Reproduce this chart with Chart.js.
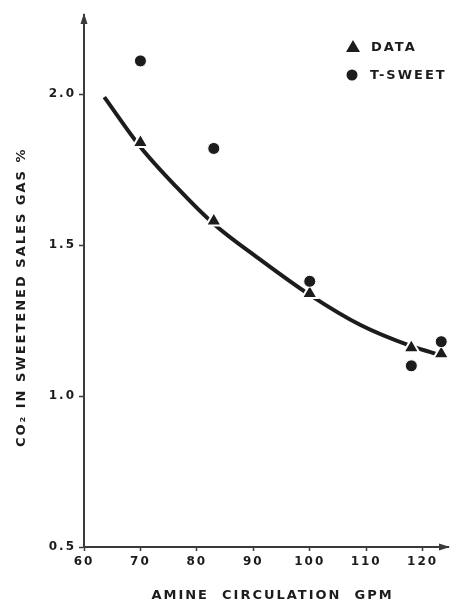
<!DOCTYPE html>
<html>
<head>
<meta charset="utf-8">
<script src="https://cdn.jsdelivr.net/npm/chart.js@4/dist/chart.umd.min.js"></script>
<style>
  html, body { margin: 0; padding: 0; background: #fff; }
  #wrap { width: 459px; height: 603px; }
</style>
</head>
<body>
<div id="wrap"><canvas id="c" width="459" height="603"></canvas></div>
<script>
// Amine circulation rate (GPM) vs CO2 left in sweetened sales gas (%)
const dataGpm      = [70, 83, 100, 118, 123.3];
const dataCo2      = [1.84, 1.58, 1.34, 1.16, 1.14];
const tsweetGpm    = [70, 83, 100, 118, 123.3];
const tsweetCo2    = [2.11, 1.82, 1.38, 1.10, 1.18];
// Fitted trend line through the measured points
const fitGpm       = [63.6, 70, 76.5, 83, 91, 100, 109, 118, 123.3];
const fitCo2       = [1.99, 1.825, 1.69, 1.57, 1.455, 1.335, 1.235, 1.165, 1.135];
const xTickValues  = [60, 70, 80, 90, 100, 110, 120];
const yTickValues  = [0.5, 1.0, 1.5, 2.0];

const INK = '#1c1c1c';
const AXIS = '#3a3a3a';
const FONT = '"DejaVu Sans", sans-serif';

const pts = (xs, ys) => xs.map((x, i) => ({ x, y: ys[i] }));

// Axis arrowheads, letter spacing, and a small in-plot legend
const decor = {
  id: 'decor',
  beforeDraw(chart) {
    chart.ctx.letterSpacing = '2px';
  },
  afterDraw(chart) {
    const { ctx, chartArea: a } = chart;
    ctx.save();
    ctx.fillStyle = AXIS;
    // y-axis arrow
    ctx.beginPath();
    ctx.moveTo(a.left, a.top - 2);
    ctx.lineTo(a.left - 3.5, a.top + 9);
    ctx.lineTo(a.left + 3.5, a.top + 9);
    ctx.closePath();
    ctx.fill();
    // x-axis arrow
    ctx.beginPath();
    ctx.moveTo(a.right + 2, a.bottom);
    ctx.lineTo(a.right - 9, a.bottom - 3.5);
    ctx.lineTo(a.right - 9, a.bottom + 3.5);
    ctx.closePath();
    ctx.fill();

    // legend
    const ds = chart.data.datasets;
    const entries = [
      { label: ds[0].label, style: 'triangle', x: 353, y: 47 },
      { label: ds[1].label, style: 'circle', x: 352, y: 75 }
    ];
    ctx.fillStyle = INK;
    ctx.font = 'bold 13px ' + FONT;
    ctx.textBaseline = 'middle';
    ctx.letterSpacing = '2px';
    entries.forEach(e => {
      ctx.beginPath();
      if (e.style === 'triangle') {
        ctx.moveTo(e.x, e.y - 7);
        ctx.lineTo(e.x - 7, e.y + 5);
        ctx.lineTo(e.x + 7, e.y + 5);
        ctx.closePath();
      } else {
        ctx.arc(e.x, e.y, 5.5, 0, Math.PI * 2);
      }
      ctx.fill();
      ctx.fillText(e.label, e.x + 18, e.y + 1);
    });
    ctx.restore();
  }
};

new Chart(document.getElementById('c'), {
  type: 'scatter',
  data: {
    datasets: [
      {
        label: 'DATA',
        data: pts(dataGpm, dataCo2),
        pointStyle: 'triangle',
        pointRadius: 9,
        backgroundColor: INK,
        borderColor: '#ffffff',
        borderWidth: 2,
        order: 1
      },
      {
        label: 'T-SWEET',
        data: pts(tsweetGpm, tsweetCo2),
        pointStyle: 'circle',
        pointRadius: 6,
        backgroundColor: INK,
        borderColor: '#ffffff',
        borderWidth: 1,
        order: 0
      },
      {
        label: 'FIT',
        type: 'line',
        data: pts(fitGpm, fitCo2),
        borderColor: INK,
        borderWidth: 4,
        pointRadius: 0,
        cubicInterpolationMode: 'monotone',
        fill: false,
        order: 2
      }
    ]
  },
  options: {
    responsive: false,
    animation: false,
    devicePixelRatio: 1,
    layout: { padding: { top: 15, right: 4, left: 0, bottom: 0 } },
    plugins: { legend: { display: false }, tooltip: { enabled: false } },
    scales: {
      x: {
        type: 'linear',
        min: 60,
        max: 124.5,
        afterBuildTicks: s => { s.ticks = xTickValues.map(v => ({ value: v })); },
        afterFit: s => { s.height = 56; },
        border: { display: true, color: AXIS, width: 2 },
        grid: { drawOnChartArea: false, drawTicks: true, tickLength: 4, color: AXIS, tickWidth: 1.5 },
        ticks: {
          autoSkip: false,
          maxRotation: 0,
          padding: 4,
          color: INK,
          font: { family: FONT, size: 12, weight: 'bold' },
          callback: v => String(v)
        },
        title: {
          display: true,
          text: '  AMINE  CIRCULATION  GPM',
          color: INK,
          font: { family: FONT, size: 13, weight: 'bold' },
          padding: { top: 0, bottom: 0 }
        }
      },
      y: {
        type: 'linear',
        min: 0.5,
        max: 2.262,
        afterBuildTicks: s => { s.ticks = yTickValues.map(v => ({ value: v })); },
        afterFit: s => { s.width = 84; },
        border: { display: true, color: AXIS, width: 2 },
        grid: { drawOnChartArea: false, drawTicks: true, tickLength: 5, color: AXIS, tickWidth: 1.5 },
        ticks: {
          padding: 3,
          color: INK,
          font: { family: FONT, size: 12, weight: 'bold' },
          callback: v => v.toFixed(1)
        },
        title: {
          display: true,
          text: 'CO\u2082 IN SWEETENED SALES GAS %     ',
          color: INK,
          font: { family: FONT, size: 13, weight: 'bold' },
          padding: { top: 14, bottom: 0 }
        }
      }
    }
  },
  plugins: [decor]
});
</script>
</body>
</html>
